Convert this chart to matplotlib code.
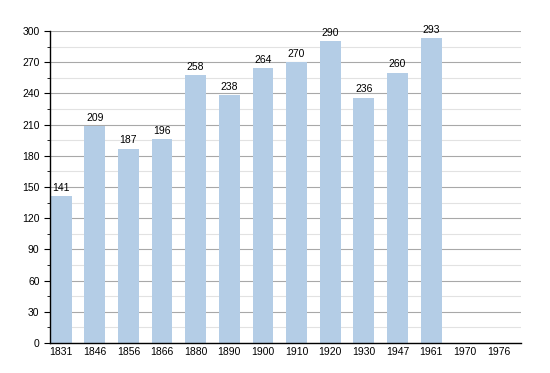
import matplotlib
matplotlib.use("Agg")
import matplotlib.pyplot as plt
from matplotlib.ticker import MultipleLocator

plt.rcParams["font.family"] = ["Liberation Sans", "DejaVu Sans"]

# données
annees = ["1831", "1846", "1856", "1866", "1880", "1890", "1900", "1910",
          "1920", "1930", "1947", "1961", "1970", "1976"]
population = [141, 209, 187, 196, 258, 238, 264, 270, 290, 236, 260, 293, None, None]

fig = plt.figure(figsize=(5.5, 3.73), dpi=100)
ax = fig.add_axes([50 / 550, 1 - 343 / 373, 471 / 550, 312 / 373])

x = list(range(len(annees)))
for i, v in enumerate(population):
    if v is None:
        continue
    ax.bar(i, v, width=0.62, color="#b4cde6", zorder=2)
    ax.text(i, v + 3, str(v), ha="center", va="bottom", fontsize=7.5, zorder=3)

ax.set_ylim(0, 300)
ax.set_xlim(-0.33, 13.67)
ax.yaxis.set_major_locator(MultipleLocator(30))
ax.yaxis.set_minor_locator(MultipleLocator(15))
ax.grid(axis="y", which="major", color="#a8a8a8", linewidth=0.8, zorder=0)
ax.grid(axis="y", which="minor", color="#e2e2e2", linewidth=0.8, zorder=0)

ax.set_xticks(x)
ax.set_xticklabels(annees)
ax.tick_params(axis="x", length=0, labelsize=7.5, pad=3)
ax.tick_params(axis="y", which="major", length=4, labelsize=7.5, direction="out")
ax.tick_params(axis="y", which="minor", length=2)

ax.spines["right"].set_visible(False)
ax.spines["top"].set_visible(False)
ax.spines["left"].set_linewidth(1.0)
ax.spines["bottom"].set_linewidth(1.0)

plt.savefig("out.png", dpi=100)
